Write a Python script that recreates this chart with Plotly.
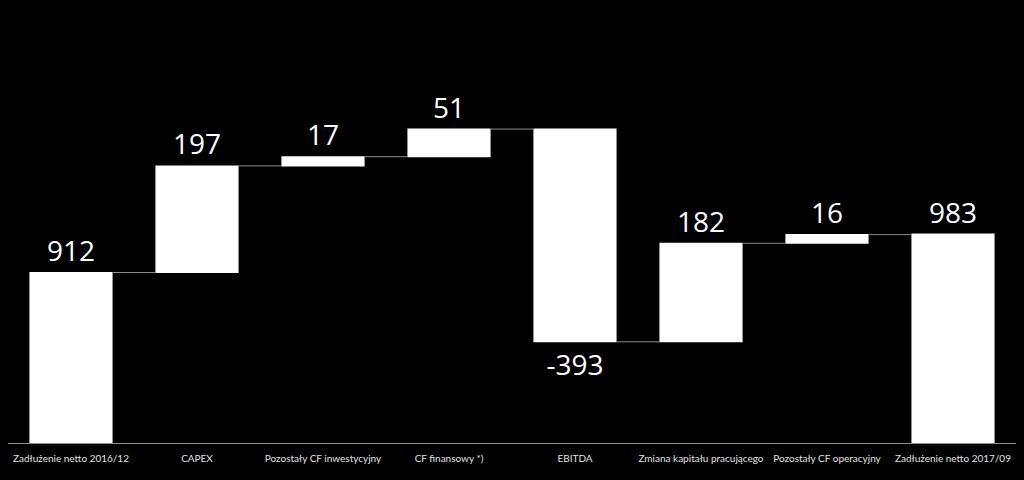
import plotly.graph_objects as go

categories = ["Zadłużenie netto 2016/12", "CAPEX", "Pozostały CF inwestycyjny",
              "CF finansowy *)", "EBITDA", "Zmiana kapitału pracującego",
              "Pozostały CF operacyjny", "Zadłużenie netto 2017/09"]
values = [912, 197, 17, 51, -393, 182, 16, 983]
measures = ["absolute", "relative", "relative", "relative", "relative",
            "relative", "relative", "absolute"]
labels = ["912", "197", "17", "51", "-393", "182", "16", "983"]

fig = go.Figure(go.Waterfall(
    x=categories,
    y=values,
    measure=measures,
    text=labels,
    textposition="outside",
    textfont=dict(family="Open Sans", size=28, color="white"),
    increasing=dict(marker=dict(color="white", line=dict(width=0))),
    decreasing=dict(marker=dict(color="white", line=dict(width=0))),
    totals=dict(marker=dict(color="white", line=dict(width=0))),
    connector=dict(mode="between", line=dict(color="#8c8c8c", width=1)),
    cliponaxis=False,
))

fig.update_layout(
    width=1024, height=480,
    paper_bgcolor="black", plot_bgcolor="black",
    margin=dict(l=8, r=8, t=10, b=37),
    showlegend=False,
    waterfallgap=0.34,
    xaxis=dict(showgrid=False, showline=True, linecolor="#8c8c8c", linewidth=1,
               ticks="", ticklabelstandoff=6,
               tickfont=dict(family="Lato", size=10, color="#e0e0e0")),
    yaxis=dict(range=[597, 1397], showgrid=False, zeroline=False,
               showticklabels=False, showline=False),
)

# page body has a default 8px margin, drop it so the figure fills the window
fig.write_html("out.html", config={"displayModeBar": False},
               post_script="document.body.style.margin='0';"
               "document.body.style.background='black';")
